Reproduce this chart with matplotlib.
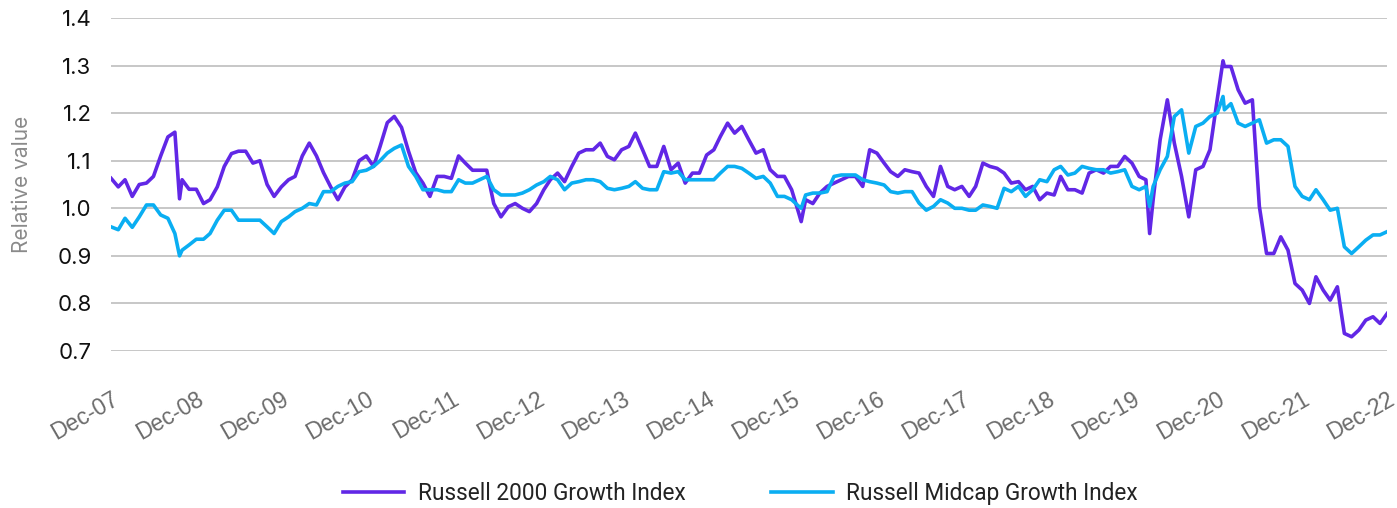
import numpy as np
import pandas as pd
import matplotlib
matplotlib.use('Agg')
import matplotlib.pyplot as plt

# month-end values, Dec-07 .. Dec-22
r2000 = [1.063, 1.045, 1.06, 1.025, 1.05, 1.053, 1.067, 1.11, 1.15, 1.16, 1.06, 1.04,
         1.04, 1.01, 1.018, 1.045, 1.088, 1.115, 1.12, 1.12, 1.095, 1.10, 1.05, 1.025,
         1.045, 1.06, 1.067, 1.11, 1.137, 1.11, 1.075, 1.045, 1.018, 1.045, 1.06, 1.10,
         1.11, 1.088, 1.13, 1.18, 1.193, 1.17, 1.12, 1.075, 1.053, 1.025, 1.067, 1.067,
         1.063, 1.11, 1.095, 1.08, 1.08, 1.08, 1.01, 0.982, 1.003, 1.01, 1.0, 0.993,
         1.01, 1.039, 1.06, 1.074, 1.056, 1.088, 1.116, 1.123, 1.123, 1.137, 1.109, 1.102,
         1.123, 1.13, 1.158, 1.123, 1.088, 1.088, 1.13, 1.081, 1.095, 1.053, 1.074, 1.074,
         1.112, 1.123, 1.151, 1.179, 1.158, 1.172, 1.144, 1.116, 1.123, 1.081, 1.067, 1.067,
         1.039, 0.989, 1.018, 1.01, 1.032, 1.046, 1.053, 1.06, 1.067, 1.067, 1.046, 1.123,
         1.116, 1.095, 1.077, 1.067, 1.081, 1.077, 1.074, 1.046, 1.025, 1.088, 1.046, 1.039,
         1.046, 1.025, 1.046, 1.095, 1.088, 1.084, 1.074, 1.053, 1.056, 1.039, 1.046, 1.018,
         1.032, 1.028, 1.067, 1.039, 1.039, 1.032, 1.074, 1.081, 1.074, 1.088, 1.088, 1.109,
         1.095, 1.067, 1.06, 1.018, 1.144, 1.228, 1.137, 1.067, 0.982, 1.081, 1.088, 1.123,
         1.228, 1.298, 1.298, 1.249, 1.221, 1.228, 1.004, 0.905, 0.905, 0.94, 0.912, 0.842,
         0.828, 0.80, 0.856, 0.828, 0.807, 0.835, 0.737, 0.73, 0.744, 0.765, 0.772, 0.758,
         0.779]

midcap = [0.961, 0.955, 0.979, 0.96, 0.982, 1.007, 1.007, 0.986, 0.979, 0.947, 0.912, 0.923,
          0.935, 0.935, 0.947, 0.975, 0.996, 0.996, 0.975, 0.975, 0.975, 0.975, 0.961, 0.947,
          0.972, 0.982, 0.993, 1.0, 1.01, 1.007, 1.035, 1.035, 1.046, 1.053, 1.056, 1.077,
          1.08, 1.088, 1.10, 1.116, 1.126, 1.133, 1.088, 1.067, 1.039, 1.039, 1.039, 1.035,
          1.035, 1.06, 1.053, 1.053, 1.06, 1.067, 1.039, 1.028, 1.028, 1.028, 1.032, 1.039,
          1.049, 1.056, 1.067, 1.06, 1.039, 1.053, 1.056, 1.06, 1.06, 1.056, 1.042, 1.039,
          1.042, 1.046, 1.056, 1.042, 1.039, 1.039, 1.077, 1.074, 1.077, 1.06, 1.06, 1.06,
          1.06, 1.06, 1.074, 1.088, 1.088, 1.084, 1.074, 1.063, 1.067, 1.053, 1.025, 1.025,
          1.018, 1.004, 1.028, 1.032, 1.032, 1.035, 1.067, 1.07, 1.07, 1.07, 1.06, 1.056,
          1.053, 1.049, 1.035, 1.032, 1.035, 1.035, 1.011, 0.996, 1.004, 1.018, 1.011, 1.0,
          1.0, 0.996, 0.996, 1.007, 1.004, 1.0, 1.042, 1.035, 1.046, 1.025, 1.039, 1.06,
          1.056, 1.081, 1.088, 1.07, 1.074, 1.088, 1.084, 1.081, 1.081, 1.074, 1.077, 1.081,
          1.046, 1.039, 1.046, 1.046, 1.081, 1.109, 1.193, 1.207, 1.116, 1.172, 1.179, 1.193,
          1.2, 1.207, 1.22, 1.179, 1.172, 1.179, 1.186, 1.137, 1.144, 1.144, 1.13, 1.046,
          1.025, 1.018, 1.039, 1.018, 0.996, 1.0, 0.919, 0.905, 0.919, 0.933, 0.944, 0.944,
          0.951]

# a few intra-month extremes
extra_dates = ['2008-10-20', '2016-02-10', '2020-03-16', '2021-01-25']
extra_r2000 = [1.02, 0.972, 0.947, 1.31]
extra_midcap = [0.90, 1.0, 1.004, 1.235]

dates = pd.date_range('2007-12-31', periods=len(r2000), freq='ME')
df = pd.DataFrame({'r2000': r2000, 'midcap': midcap}, index=dates)
ex = pd.DataFrame({'r2000': extra_r2000, 'midcap': extra_midcap}, index=pd.to_datetime(extra_dates))
df = pd.concat([df, ex]).sort_index()

purple = '#6127E6'
blue = '#0AAEF2'

plt.rcParams['font.family'] = ['Inter', 'DejaVu Sans']
fig = plt.figure(figsize=(13.97, 5.08), dpi=100)
ax = fig.add_axes([0.0795, 0.309, 0.9135, 0.6556])

ax.plot(df.index, df['r2000'], color=purple, lw=2.6, label='Russell 2000 Growth Index')
ax.plot(df.index, df['midcap'], color=blue, lw=2.6, label='Russell Midcap Growth Index')

yt = np.arange(0.7, 1.41, 0.1)
ax.set_ylim(0.7, 1.4)
ax.set_yticks(yt)
ax.set_yticklabels(['%.1f' % v for v in yt])
ax.set_xlim(dates[0], dates[-1])
ticks = [d for d in dates if d.month == 12]
ax.set_xticks(ticks)
ax.set_xticklabels([d.strftime('%b-%y') for d in ticks], rotation=30, ha='right',
                   rotation_mode='anchor', color='#6b6b6b', fontsize=16.5,
                   family=['Liberation Sans', 'DejaVu Sans'])
ax.tick_params(axis='y', length=0, pad=14, labelsize=16, labelcolor='#111111')
ax.tick_params(axis='x', length=0, pad=26)
ax.grid(axis='y', color='#bdbdbd', lw=1.2)
ax.set_axisbelow(True)
for s in ax.spines.values():
    s.set_visible(False)
ax.set_ylabel('Relative value', color='#8a8a8a', fontsize=15, labelpad=18)

leg = fig.legend(loc='lower center', bbox_to_anchor=(0.53, -0.035), ncol=2, frameon=False,
                 handlelength=2.7, columnspacing=3.8, handletextpad=0.6,
                 prop={'family': 'Roboto', 'size': 16.3})
for t in leg.get_texts():
    t.set_color('#222222')

fig.savefig('out.png', dpi=100)
